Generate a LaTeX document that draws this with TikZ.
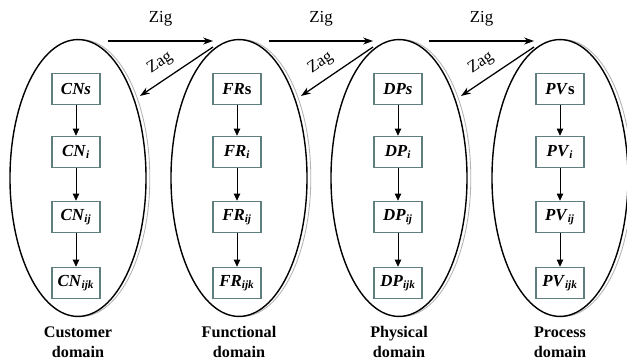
\documentclass[tikz,border=0pt]{standalone}
\usepackage{fontspec}
\setmainfont{Liberation Serif}
\usepackage{tikz}
\usetikzlibrary{arrows.meta,positioning}
\definecolor{boxcol}{HTML}{5F7F7F}
\newcommand{\bi}[1]{\textbf{\textit{#1}}}
\newcommand{\sbi}[2]{\bi{#1}\textsubscript{\bi{#2}}}

\begin{document}
\begin{tikzpicture}[x=0.025cm,y=-0.025cm,
    box/.style={draw=boxcol,line width=0.9pt,minimum width=1.2cm,minimum height=0.78cm,inner sep=1pt,font=\fontsize{12}{14}\selectfont},
    flow/.style={-{Triangle[length=5pt,width=4.5pt]},line width=0.5pt},
    zz/.style={-{Stealth[length=7pt,width=5pt]},line width=0.9pt},
    domtext/.style={font=\bfseries\fontsize{11.5}{14}\selectfont,align=center},
    zztext/.style={font=\fontsize{12}{13}\selectfont,inner sep=1pt}]
    \useasboundingbox (0,0) rectangle (627,363);

    % Domains
    \foreach \i/\cx/\name in {1/78/Customer,2/239/Functional,3/399/Physical,4/560/Process} {
        \begin{scope}
            \clip (\cx,0) rectangle (\cx+90,363);
            \draw[gray!60,line width=0.6pt] (\cx+3,178) ellipse [x radius=1.72cm,y radius=3.46cm];
        \end{scope}
        \draw[line width=1pt] (\cx,178) ellipse [x radius=1.7cm,y radius=3.46cm];
        \node[domtext] (d\i) at (\cx,342) {\name\\domain};
    }

    % Hierarchy in each domain
    \foreach \i/\cx/\p/\t in {1/76/CN/\bi{CNs},2/237/FR/\bi{FR}\textbf{s},3/398/DP/\bi{DPs},4/560/PV/\bi{PV}\textbf{s}} {
        \node[box] (b\i0) at (\cx,89) {\t};
        \node[box] (b\i1) at (\cx,152) {\sbi{\p}{i}};
        \node[box] (b\i2) at (\cx,217) {\sbi{\p}{ij}};
        \node[box] (b\i3) at (\cx,283) {\sbi{\p}{ijk}};
        \draw[flow] (b\i0) -- (b\i1);
        \draw[flow] (b\i1) -- (b\i2);
        \draw[flow] (b\i2) -- (b\i3);
    }

    % Zigzagging between domains
    \foreach \i/\cx/\nx in {1/78/239,2/239/399,3/399/560} {
        \coordinate (zs\i) at (\cx+30,41);
        \coordinate (ze\i) at (\nx-26,41);
        \coordinate (as\i) at (\nx-26,47);
        \coordinate (ae\i) at (\cx+62,96);
        \draw[zz] (zs\i) -- node[above=9pt,zztext] {Zig} (ze\i);
        \draw[zz] (as\i) -- node[pos=0.6,sloped,above=5pt,zztext] {Zag} (ae\i);
    }
\end{tikzpicture}
\end{document}
